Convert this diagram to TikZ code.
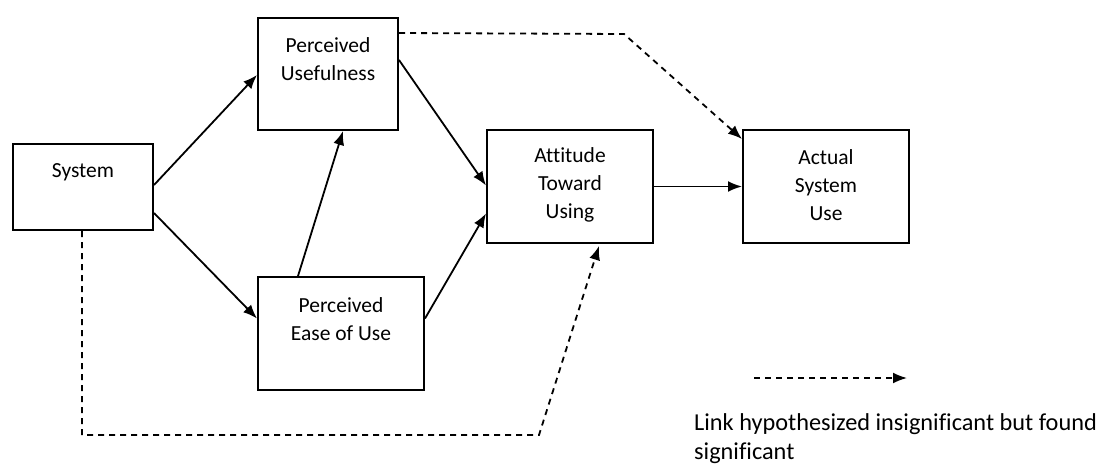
\documentclass[tikz,border=0pt]{standalone}
\usepackage{fontspec}
\setmainfont{Carlito}[Ligatures=CommonOff]
\usetikzlibrary{arrows.meta,calc}
\begin{document}
\begin{tikzpicture}[x=1pt,y=-1pt,
  box/.style={draw,line width=2pt,minimum width=#1,inner sep=0pt},
  lbl/.style={align=center,font=\fontsize{21.5}{28}\selectfont,inner sep=0pt},
  arr/.style={line width=1.8pt,-{Latex[length=14pt,width=11pt]}},
  dsh/.style={line width=1.8pt,dash pattern=on 6pt off 5pt,-{Latex[length=14pt,width=11pt]}}]
\useasboundingbox (0,0) rectangle (1099,474);
% boxes
\node[box=140pt,minimum height=86pt] (sys) at (83,187) {};
\node[box=140pt,minimum height=112pt] (pu) at (328,74) {};
\node[box=166pt,minimum height=113pt] (peou) at (341,333.5) {};
\node[box=166pt,minimum height=113pt] (att) at (570,186.5) {};
\node[box=166pt,minimum height=113pt] (act) at (826,186.5) {};
% texts
\node[lbl] (tsys) at (83,172) {System};
\node[lbl] (tpu) at (328,59) {Perceived\\Usefulness};
\node[lbl] (tpeou) at (341,319) {Perceived\\Ease of Use};
\node[lbl] (tatt) at (570,185) {Attitude\\Toward\\Using};
\node[lbl] (tact) at (826,185) {Actual\\System\\Use};
% solid arrows
\draw[arr] ($(sys.east)+(0,-2)$) -- ($(pu.west)+(0,1)$);
\draw[arr] ($(sys.east)+(0,26)$) -- ($(peou.west)+(0,-15)$);
\draw[arr] ($(pu.east)+(0,-14)$) -- ($(att.west)+(0,-1)$);
\draw[arr] ($(peou.north)+(-43,0)$) -- ($(pu.south)+(15,0)$);
\draw[arr] ($(peou.east)+(0,-15)$) -- ($(att.west)+(0,27)$);
\draw[arr] (att.east) -- (act.west);
% dashed arrows
\coordinate (c1) at (624,34);
\draw[dsh] ($(pu.north east)+(0,16)$) -- (c1) -- ($(act.north west)+(0,10)$);
\coordinate (c2) at (82,435);
\coordinate (c3) at (539,435);
\draw[dsh] ($(sys.south)+(-1,0)$) -- (c2) -- (c3) -- ($(att.south)+(29,2)$);
% legend
\coordinate (l1) at (754,378);
\coordinate (l2) at (907,378);
\draw[dsh] (l1) -- (l2);
\node[anchor=north west,align=left,inner sep=0pt,font=\fontsize{24.3}{29}\selectfont] (leg) at (694,413) {Link hypothesized insignificant but found\\significant};
\end{tikzpicture}
\end{document}
